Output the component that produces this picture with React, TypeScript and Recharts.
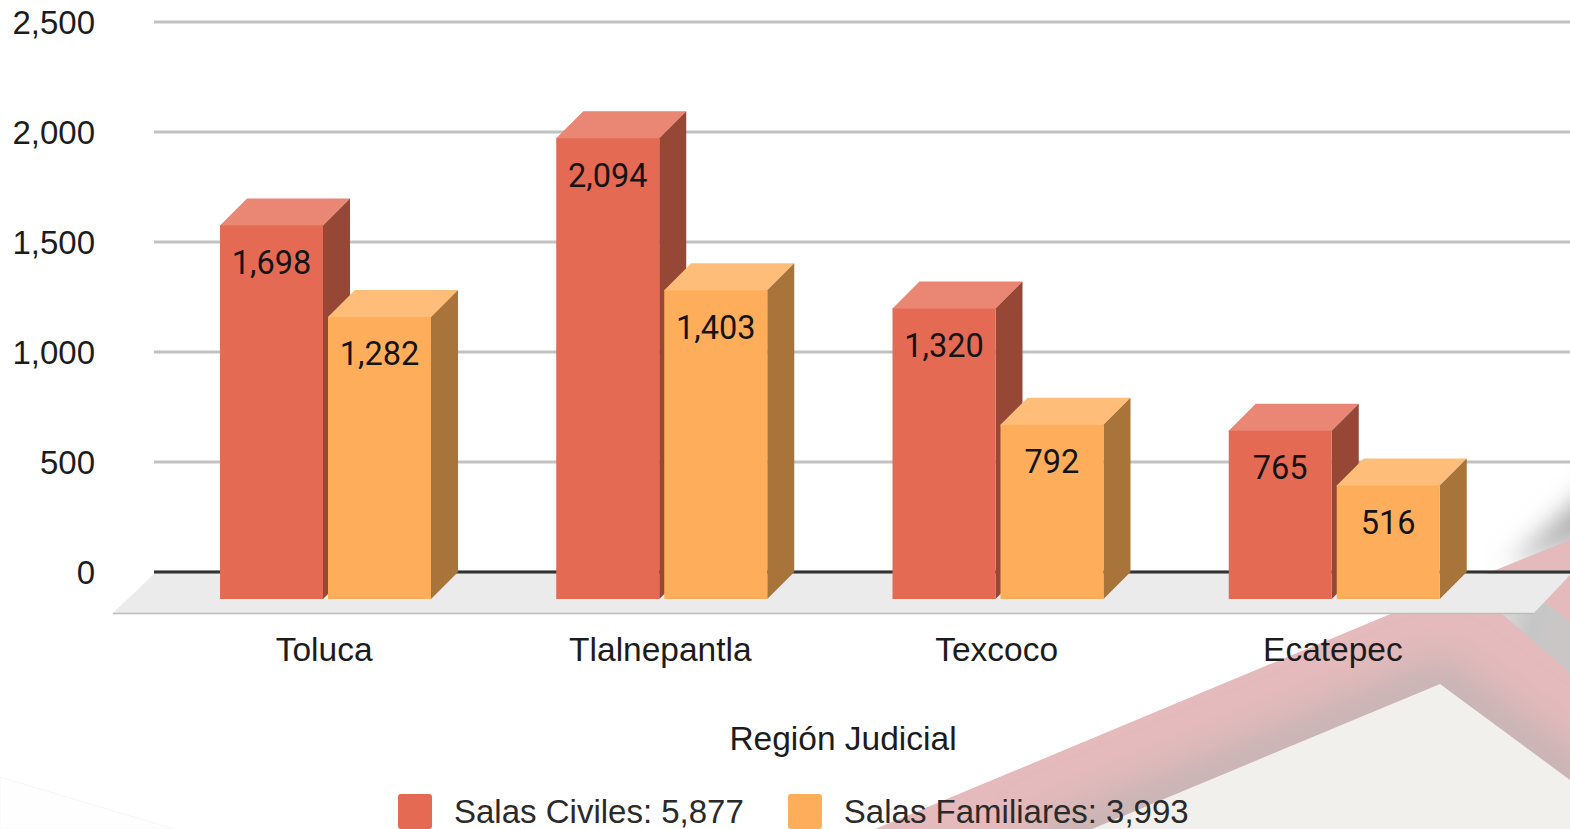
import React from "react";
import {
  BarChart,
  Bar,
  XAxis,
  YAxis,
  CartesianGrid,
  Legend,
  Label,
  LabelList,
} from "recharts";

const regions = ["Toluca", "Tlalnepantla", "Texcoco", "Ecatepec"];
const salasCiviles = [1698, 2094, 1320, 765];
const salasFamiliares = [1282, 1403, 792, 516];
const yTicks = [0, 500, 1000, 1500, 2000, 2500];
const baseline = [0];
const civilesName = "Salas Civiles: 5,877";
const familiaresName = "Salas Familiares: 3,993";

const data = regions.map((region, i) => ({
  region,
  civiles: salasCiviles[i],
  familiares: salasFamiliares[i],
}));

const DEPTH = 27;
const AXIS_FONT = "'Liberation Sans', Arial, sans-serif";
const TEXT_COLOR = "#1c1c1c";

const fmt = (v: number) => v.toLocaleString("en-US");

const Bar3D = ({ x, y, width, height, front, side, top }: any) => (
  <g>
    {/* top runs 1px under the front so no seam shows at fractional y */}
    <polygon
      points={`${x - DEPTH},${y + DEPTH + 1} ${x - DEPTH},${y + DEPTH} ${x},${y} ${x + width},${y} ${x + width - DEPTH},${y + DEPTH} ${x + width - DEPTH},${y + DEPTH + 1}`}
      fill={top}
    />
    <polygon
      points={`${x + width - DEPTH},${y + DEPTH} ${x + width},${y} ${x + width},${y + height} ${x + width - DEPTH},${y + height + DEPTH}`}
      fill={side}
    />
    <rect x={x - DEPTH} y={y + DEPTH} width={width} height={height} fill={front} />
  </g>
);

const BarValue = ({ x, y, width, value }: any) => (
  <text
    x={x - DEPTH + width / 2}
    y={y + DEPTH + 48.5}
    textAnchor="middle"
    fontFamily="Roboto, sans-serif"
    fontSize={32.5}
    fill="#141414"
  >
    {fmt(value)}
  </text>
);

const RegionTick = ({ x, y, payload }: any) => (
  <text
    x={x - 28}
    y={y + 87}
    textAnchor="middle"
    fontFamily={AXIS_FONT}
    fontSize={33.5}
    fill={TEXT_COLOR}
  >
    {payload.value}
  </text>
);

const LegendBox = ({ payload }: any) => (
  <div style={{ display: "flex", fontFamily: AXIS_FONT, fontSize: 33, color: "#2a2a2a" }}>
    {(payload || []).map((item: any, i: number) => (
      <div
        key={item.value}
        style={{ display: "flex", alignItems: "center", marginRight: i === 0 ? 44 : 0, height: 35 }}
      >
        <span
          style={{
            width: 34,
            height: 35,
            background: item.color,
            borderRadius: 3,
            marginRight: 22,
          }}
        />
        <span style={{ whiteSpace: "nowrap", lineHeight: "35px" }}>{item.value}</span>
      </div>
    ))}
  </div>
);

// page artwork behind the chart, plus the chart floor
const Backdrop = () => (
  <svg
    width={1570}
    height={829}
    style={{ position: "absolute", left: 0, top: 0 }}
  >
    <defs>
      <filter id="soft" x="-50%" y="-50%" width="200%" height="200%">
        <feGaussianBlur stdDeviation="20" />
      </filter>
      <filter id="softer" x="-50%" y="-50%" width="200%" height="200%">
        <feGaussianBlur stdDeviation="13" />
      </filter>
      <clipPath id="ribbon">
        <polygon points="875,829 1570,540 1570,829" />
      </clipPath>
      <linearGradient id="grayBand" x1="0" y1="0" x2="1" y2="0.3">
        <stop offset="0" stopColor="#dcdcdc" />
        <stop offset="0.5" stopColor="#c6c6c6" />
        <stop offset="1" stopColor="#cbc6c6" />
      </linearGradient>
    </defs>
    <polygon points="0,777 174,829 0,829" fill="#fefefe" stroke="#f6f6f6" strokeWidth={1} />
    <polygon points="1506,568 1610,470 1610,530" fill="#a8a8a8" filter="url(#softer)" />
    <polygon points="875,829 1503,567 1570,540 1570,829" fill="#e5babc" />
    <g clipPath="url(#ribbon)">
      <polyline
        points="1040,851 1440,684 1590,795"
        fill="none"
        stroke="#c4b4b4"
        strokeWidth={50}
        filter="url(#soft)"
      />
    </g>
    <polygon points="1500,612 1546,603 1570,622 1570,673" fill="url(#grayBand)" />
    <polygon points="1092,829 1440,684 1570,780 1570,829" fill="#f1f0ec" />
    <polygon
      points="154,574 1570,574 1570,575 1534,613 113,613"
      fill="#ebebeb"
    />
    <line x1={113} y1={613.5} x2={1534} y2={613.5} stroke="#bdbdbd" strokeWidth={1.5} />
  </svg>
);

export default function App() {
  return (
    <div style={{ position: "absolute", left: 0, top: 0, width: 1570, height: 829, overflow: "hidden" }}>
      <Backdrop />
      <div style={{ position: "absolute", left: 0, top: 0 }}>
        <BarChart
          width={1570}
          height={829}
          data={data}
          margin={{ top: 22, right: 0, bottom: 0, left: 0 }}
          barSize={103}
          barGap={5}
          barCategoryGap={0}
        >
          <CartesianGrid vertical={false} stroke="#c2c2c2" strokeWidth={3} />
          <CartesianGrid vertical={false} horizontalValues={baseline} stroke="#333333" strokeWidth={3} />
          <XAxis
            dataKey="region"
            height={222}
            interval={0}
            padding={{ left: 30, right: 41 }}
            tickLine={false}
            tickSize={0}
            axisLine={false}
            tick={<RegionTick />}
          >
            <Label
              value="Región Judicial"
              position="insideTop"
              offset={154}
              dx={-19}
              fontFamily={AXIS_FONT}
              fontSize={33.5}
              fill={TEXT_COLOR}
            />
          </XAxis>
          <YAxis
            width={154}
            domain={[0, 2500]}
            ticks={yTicks}
            tickFormatter={fmt}
            tickLine={false}
            axisLine={false}
            tickSize={0}
            tickMargin={59}
            tick={{ fontFamily: AXIS_FONT, fontSize: 33, fill: TEXT_COLOR }}
          />
          <Legend
            content={<LegendBox />}
            wrapperStyle={{ position: "absolute", left: 398, top: 794, bottom: "auto", width: "auto" }}
          />
          <Bar
            dataKey="civiles"
            name={civilesName}
            fill="#e56a54"
            isAnimationActive={false}
            shape={(p: any) => <Bar3D {...p} front="#e56a54" side="#964735" top="#e98674" />}
          >
            <LabelList dataKey="civiles" content={<BarValue />} />
          </Bar>
          <Bar
            dataKey="familiares"
            name={familiaresName}
            fill="#feae5b"
            isAnimationActive={false}
            shape={(p: any) => <Bar3D {...p} front="#feae5b" side="#a87439" top="#febd79" />}
          >
            <LabelList dataKey="familiares" content={<BarValue />} />
          </Bar>
        </BarChart>
      </div>
    </div>
  );
}
